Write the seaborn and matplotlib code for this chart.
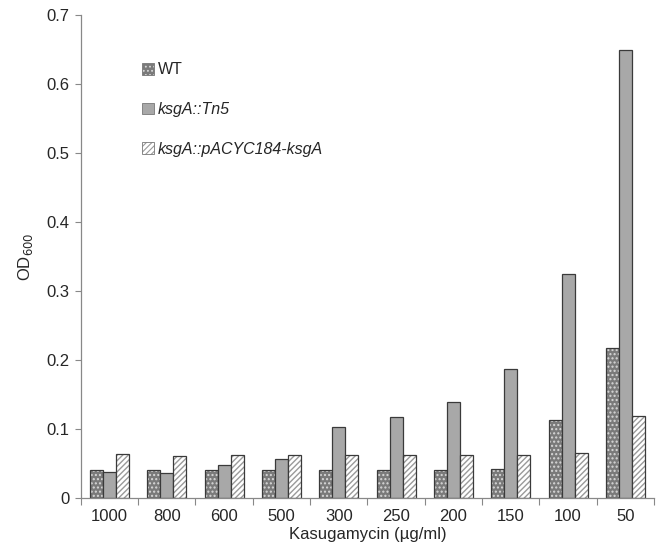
import numpy as np
import pandas as pd
import matplotlib
matplotlib.use("Agg")
import matplotlib.pyplot as plt
from matplotlib.patches import Patch
import seaborn as sns

categories = ["1000", "800", "600", "500", "300", "250", "200", "150", "100", "50"]
wt = [0.040, 0.040, 0.040, 0.040, 0.040, 0.040, 0.040, 0.042, 0.113, 0.217]
tn5 = [0.038, 0.036, 0.048, 0.056, 0.103, 0.117, 0.139, 0.187, 0.324, 0.649]
comp = [0.064, 0.061, 0.062, 0.062, 0.062, 0.062, 0.062, 0.063, 0.066, 0.119]
series_names = ["WT", "ksgA::Tn5", "ksgA::pACYC184-ksgA"]
yticks = [0, 0.1, 0.2, 0.3, 0.4, 0.5, 0.6, 0.7]

df = pd.DataFrame({
    "conc": categories * 3,
    "od": wt + tn5 + comp,
    "strain": [series_names[0]] * 10 + [series_names[1]] * 10 + [series_names[2]] * 10,
})

sns.set_style("white")
plt.rcParams["font.family"] = ["Liberation Sans", "DejaVu Sans"]

fig = plt.figure(figsize=(6.62, 5.51), dpi=100)
ax = fig.add_axes([0.122, 0.096, 0.866, 0.877])

styles = [
    dict(face="#7a7a7a", edge="#3a3a3a", hatch="....", hcol="#d8d8d8"),
    dict(face="#a8a8a8", edge="#3a3a3a", hatch=None, hcol=None),
    dict(face="#ffffff", edge="#3a3a3a", hatch="//////", hcol="#9a9a9a"),
]
palette = {n: s["face"] for n, s in zip(series_names, styles)}

sns.barplot(data=df, x="conc", y="od", hue="strain", order=categories,
            hue_order=series_names, palette=palette, width=0.68, gap=0,
            saturation=1, legend=False, ax=ax, errorbar=None)


def style_patch(p, s):
    p.set_facecolor(s["face"])
    p.set_edgecolor(s["edge"])
    p.set_linewidth(0.9)
    if s["hatch"]:
        p.set_hatch(s["hatch"])
        p._hatch_color = matplotlib.colors.to_rgba(s["hcol"])


for cont, s in zip(ax.containers, styles):
    for p in cont.patches:
        style_patch(p, s)

plt.rcParams["hatch.linewidth"] = 0.8

ax.set_ylim(0, 0.7)
ax.set_xlim(-0.5, len(categories) - 0.5)
ax.set_yticks(yticks)
ax.set_yticklabels(["0"] + [f"{v:.1f}" for v in yticks[1:]])
ax.tick_params(axis="y", which="major", direction="out", length=4, width=0.8,
               color="#888888", labelsize=12, pad=4, left=True)
ax.tick_params(axis="x", which="major", length=0, labelsize=12, pad=8)
ax.set_xticks(np.arange(len(categories) + 1) - 0.5, minor=True)
ax.tick_params(axis="x", which="minor", direction="out", length=5, width=0.8,
               color="#888888", bottom=True)

for side in ["top", "right"]:
    ax.spines[side].set_visible(False)
for side in ["left", "bottom"]:
    ax.spines[side].set_color("#888888")
    ax.spines[side].set_linewidth(0.9)

ax.set_xlabel("Kasugamycin (\u00b5g/ml)", fontsize=12, labelpad=2)
ax.set_ylabel("OD$_{600}$", fontsize=12, labelpad=8)

handles = []
for s, n in zip(styles, series_names):
    h = Patch(facecolor=s["face"], edgecolor="#777777", linewidth=0.6,
              hatch=s["hatch"], label=n)
    if s["hatch"]:
        h._hatch_color = matplotlib.colors.to_rgba(s["hcol"])
    handles.append(h)

leg = ax.legend(handles=handles, loc="upper left", bbox_to_anchor=(0.095, 0.915),
                frameon=False, fontsize=11.5, handlelength=0.75, handleheight=0.75,
                handletextpad=0.25, labelspacing=1.55, borderaxespad=0)
for i, t in enumerate(leg.get_texts()):
    if i > 0:
        t.set_fontstyle("italic")

fig.savefig("out.png", dpi=100, facecolor="white")
